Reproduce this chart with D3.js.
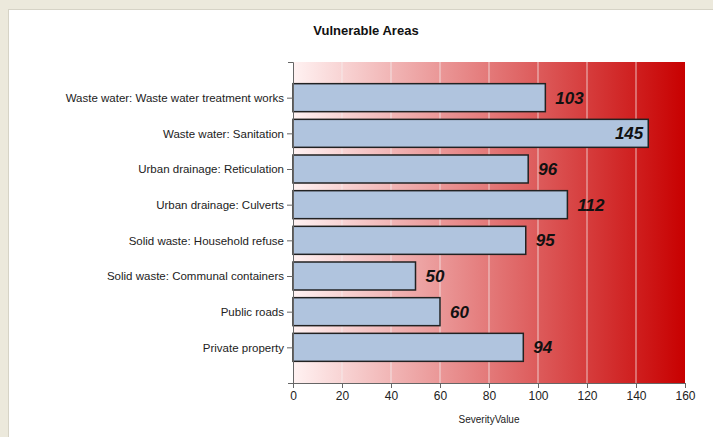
<!DOCTYPE html>
<html>
<head>
<meta charset="utf-8">
<script src="https://cdn.jsdelivr.net/npm/d3@7"></script>
<style>
  body { margin: 0; background: #ece9dc; }
  svg { display: block; font-family: "Liberation Sans", Arial, sans-serif; }
</style>
</head>
<body>
<svg id="chart" width="713" height="437"></svg>
<script>
// datos del grafico
var categories = [
    "Waste water: Waste water treatment works",
    "Waste water: Sanitation",
    "Urban drainage: Reticulation",
    "Urban drainage: Culverts",
    "Solid waste: Household refuse",
    "Solid waste: Communal containers",
    "Public roads",
    "Private property"
];
var severityValues = [103, 145, 96, 112, 95, 50, 60, 94];
var xTicks = [0, 20, 40, 60, 80, 100, 120, 140, 160];

var svg = d3.select("#chart");

// marco blanco
svg.append("rect")
    .attr("x", 8.5).attr("y", 9.5)
    .attr("width", 705).attr("height", 428)
    .style("fill", "#ffffff")
    .style("stroke", "#d6d3c6");

// area del grafico (no usar "top", es window.top)
var plotLeft = 293, plotRight = 685, plotTop = 62, plotBottom = 383;

var x = d3.scaleLinear().domain([0, 160]).range([plotLeft, plotRight]);
var y = d3.scalePoint().domain(categories).range([plotTop, plotBottom]).padding(1);
var barHeight = 28;

// degradado de fondo
var defs = svg.append("defs");
var grad = defs.append("linearGradient")
    .attr("id", "fondo")
    .attr("x1", "0%").attr("x2", "100%").attr("y1", "0%").attr("y2", "0%");
grad.append("stop").attr("offset", "0%").attr("stop-color", "#fff2f2");
grad.append("stop").attr("offset", "100%").attr("stop-color", "#c80000");

svg.append("rect")
    .attr("x", plotLeft).attr("y", plotTop)
    .attr("width", plotRight - plotLeft).attr("height", plotBottom - plotTop)
    .style("fill", "url(#fondo)");

// lineas de la cuadricula
svg.append("g")
    .selectAll("line")
    .data(xTicks.slice(1, -1))
    .enter().append("line")
    .attr("x1", d => x(d)).attr("x2", d => x(d))
    .attr("y1", plotTop).attr("y2", plotBottom)
    .style("stroke", "#f4f0f0")
    .style("stroke-opacity", 0.75)
    .style("stroke-width", 1);

// barras
svg.append("g")
    .selectAll("rect")
    .data(severityValues)
    .enter().append("rect")
    .attr("x", x(0))
    .attr("y", (d, i) => y(categories[i]) - barHeight / 2)
    .attr("width", d => x(d) - x(0))
    .attr("height", barHeight)
    .style("fill", "#b0c4de")
    .style("stroke", "#222")
    .style("stroke-width", 1.5);

// etiquetas de valor
svg.append("g")
    .selectAll("text")
    .data(severityValues)
    .enter().append("text")
    .attr("x", d => x(d) + 40 > plotRight ? x(d) - 5 : x(d) + 10)
    .attr("y", (d, i) => y(categories[i]) + 6)
    .attr("text-anchor", d => x(d) + 40 > plotRight ? "end" : "start")
    .style("font-size", "17px")
    .style("font-weight", "bold")
    .style("font-style", "italic")
    .style("fill", "#111")
    .text(d => d);

// eje y
var yAxis = svg.append("g")
    .attr("transform", "translate(" + plotLeft + ",0)")
    .call(d3.axisLeft(y).tickSize(6).tickSizeOuter(5).tickPadding(3));
yAxis.selectAll("text").style("font-size", "11.5px").style("fill", "#222");
yAxis.selectAll("line, path").style("stroke", "#666");

// eje x
var xAxis = svg.append("g")
    .attr("transform", "translate(0," + plotBottom + ")")
    .call(d3.axisBottom(x).tickValues(xTicks).tickSize(5).tickSizeOuter(0).tickPadding(3));
xAxis.selectAll("text").style("font-size", "12px").style("fill", "#222");
xAxis.selectAll("line, path").style("stroke", "#666");

// titulos
svg.append("text")
    .attr("x", 366).attr("y", 35)
    .attr("text-anchor", "middle")
    .style("font-size", "13px")
    .style("font-weight", "bold")
    .style("fill", "#111")
    .text("Vulnerable Areas");

svg.append("text")
    .attr("x", x(80)).attr("y", 423)
    .attr("text-anchor", "middle")
    .style("font-size", "10px")
    .style("fill", "#222")
    .text("SeverityValue");
</script>
</body>
</html>
